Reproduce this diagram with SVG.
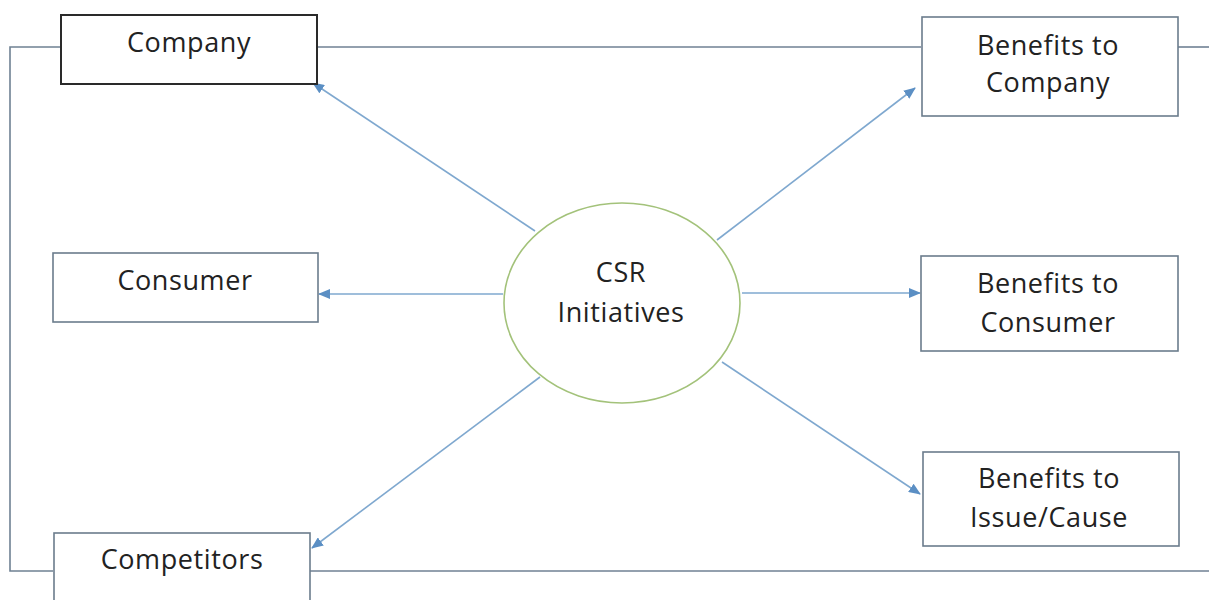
<svg xmlns="http://www.w3.org/2000/svg" width="1209" height="600" viewBox="0 0 1209 600">
<defs>
<marker id="ah" markerWidth="12" markerHeight="10" refX="11" refY="5" orient="auto" markerUnits="userSpaceOnUse">
<path d="M0,0 L12,5 L0,10 Z" fill="#5b8fc4"/>
</marker>
<style>
.box{fill:#fff;stroke:#6b7c8c;stroke-width:1.6}
.dark{fill:#fff;stroke:#2a2a2a;stroke-width:2}
.frame{fill:none;stroke:#6f8193;stroke-width:1.6}
.conn{fill:none;stroke:#7fa8cf;stroke-width:1.6;marker-end:url(#ah)}
.t{font-family:"Open Sans","Noto Sans",sans-serif;font-size:27px;letter-spacing:0.6px;fill:#222;text-anchor:middle}
</style>
</defs>
<rect width="1209" height="600" fill="#fff"/>
<g id="frame">
<path class="frame" d="M61,47 H10 V571 H53"/>
<path class="frame" d="M317,47 H921"/>
<path class="frame" d="M1178,47 H1209"/>
<path class="frame" d="M310,571 H1209"/>
</g>
<g id="connectors">
<line class="conn" x1="535" y1="231" x2="313" y2="83"/>
<line class="conn" x1="503" y1="294" x2="319" y2="294"/>
<line class="conn" x1="540" y1="377" x2="312" y2="548"/>
<line class="conn" x1="717" y1="240" x2="915" y2="88"/>
<line class="conn" x1="742" y1="293" x2="920" y2="293"/>
<line class="conn" x1="722" y1="362" x2="920" y2="494"/>
</g>
<g id="company">
<rect class="dark" x="61" y="15" width="256" height="69"/>
<text class="t" x="189" y="52">Company</text>
</g>
<g id="consumer">
<rect class="box" x="53" y="253" width="265" height="69"/>
<text class="t" x="185" y="290">Consumer</text>
</g>
<g id="competitors">
<rect class="box" x="54" y="533" width="256" height="80"/>
<text class="t" x="182" y="569">Competitors</text>
</g>
<g id="csr">
<ellipse cx="622" cy="303" rx="118" ry="100" fill="#fff" stroke="#a3c27a" stroke-width="1.6"/>
<text class="t" x="621" y="282">CSR</text>
<text class="t" x="621" y="322">Initiatives</text>
</g>
<g id="benefits-company">
<rect class="box" x="922" y="17" width="256" height="99"/>
<text class="t" x="1048" y="55">Benefits to</text>
<text class="t" x="1048" y="92">Company</text>
</g>
<g id="benefits-consumer">
<rect class="box" x="921" y="256" width="257" height="95"/>
<text class="t" x="1048" y="293">Benefits to</text>
<text class="t" x="1048" y="332">Consumer</text>
</g>
<g id="benefits-issue">
<rect class="box" x="923" y="452" width="256" height="94"/>
<text class="t" x="1049" y="488">Benefits to</text>
<text class="t" x="1049" y="527">Issue/Cause</text>
</g>
</svg>
